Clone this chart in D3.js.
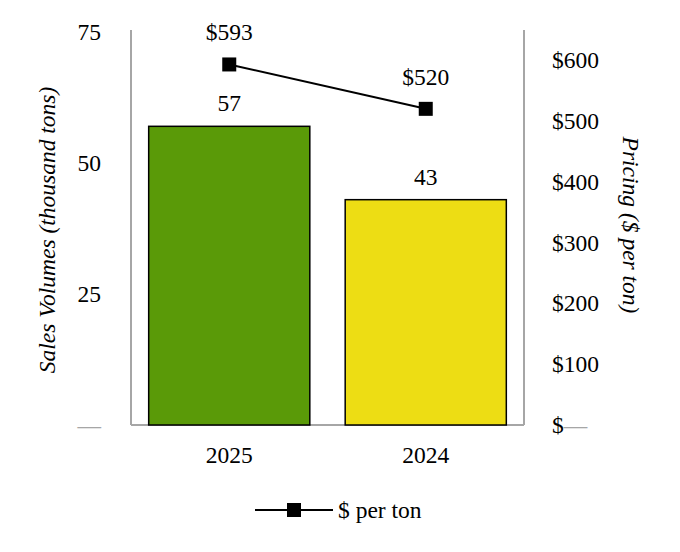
<!DOCTYPE html>
<html><head><meta charset="utf-8">
<script src="https://cdn.jsdelivr.net/npm/d3@7"></script>
<style>body{margin:0;background:#fff}svg{display:block}</style>
</head><body><svg id="c" width="680" height="552"></svg>
<script>
const categories = ["2025", "2024"];
const volumes = [57, 43];
const prices = [593, 520];
const priceLabels = ["$593", "$520"];
const leftTicks = [0, 25, 50, 75];
const leftTickLabels = ["—", "25", "50", "75"];
const rightTicks = [0, 100, 200, 300, 400, 500, 600];
const rightTickLabels = ["$—", "$100", "$200", "$300", "$400", "$500", "$600"];
const barColors = ["#5a9a08", "#eddd14"];
const seriesName = "$ per ton";

const FS = 23.5;
const FF = "Liberation Serif";
const svg = d3.select("#c");
const L = 131, R = 524, T = 30, B = 425;
const x = d3.scaleBand().domain(categories).range([L, R]).paddingInner(0.18).paddingOuter(0.09);
const yL = d3.scaleLinear().domain([0, 75]).range([B, B - 75 * 5.24]);
const yR = d3.scaleLinear().domain([0, 650]).range([B, B - 650 * 0.608]);
const txt = () => svg.append("text").attr("font-family", FF).attr("font-size", FS);

const gray = "#a6a6a6";
svg.append("line").attr("x1", L).attr("x2", L).attr("y1", T).attr("y2", B).attr("stroke", gray).attr("stroke-width", 2);
svg.append("line").attr("x1", R).attr("x2", R).attr("y1", T).attr("y2", B).attr("stroke", gray).attr("stroke-width", 2);
svg.append("line").attr("x1", L).attr("x2", R).attr("y1", B).attr("y2", B).attr("stroke", gray).attr("stroke-width", 2);

svg.selectAll("rect.bar").data(categories).enter().append("rect").attr("class", "bar")
  .attr("x", d => x(d)).attr("width", x.bandwidth())
  .attr("y", (d, i) => yL(volumes[i])).attr("height", (d, i) => B - yL(volumes[i]))
  .attr("fill", (d, i) => barColors[i]).attr("stroke", "#000").attr("stroke-width", 1.5);

categories.forEach((c, i) => {
  txt().attr("x", x(c) + x.bandwidth() / 2).attr("y", yL(volumes[i]) - 15)
    .attr("text-anchor", "middle").text(volumes[i]);
});

leftTicks.forEach((t, i) => {
  txt().attr("x", 101).attr("y", yL(t) + 8).attr("text-anchor", "end")
    .attr("fill", i === 0 ? gray : "#000").text(leftTickLabels[i]);
});
rightTicks.forEach((t, i) => {
  const tx = txt().attr("x", 552).attr("y", yR(t) + 8);
  if (t === 0) {
    tx.append("tspan").text("$");
    tx.append("tspan").attr("fill", gray).text("—");
  } else tx.text(rightTickLabels[i]);
});

categories.forEach(c => {
  txt().attr("x", x(c) + x.bandwidth() / 2).attr("y", 463).attr("text-anchor", "middle").text(c);
});

txt().attr("transform", "translate(55,230) rotate(-90)").attr("text-anchor", "middle")
  .attr("font-style", "italic").text("Sales Volumes (thousand tons)");
txt().attr("transform", "translate(623,225) rotate(90)").attr("text-anchor", "middle")
  .attr("font-style", "italic").text("Pricing ($ per ton)");

const cx = d => x(d) + x.bandwidth() / 2;
svg.append("path").datum(categories)
  .attr("d", d3.line().x(d => cx(d)).y((d, i) => yR(prices[i])))
  .attr("fill", "none").attr("stroke", "#000").attr("stroke-width", 2);
const ms = 14;
svg.selectAll("rect.pt").data(categories).enter().append("rect").attr("class", "pt")
  .attr("x", d => cx(d) - ms / 2).attr("y", (d, i) => yR(prices[i]) - ms / 2)
  .attr("width", ms).attr("height", ms).attr("fill", "#000");
categories.forEach((c, i) => {
  txt().attr("x", cx(c)).attr("y", yR(prices[i]) - 24).attr("text-anchor", "middle").text(priceLabels[i]);
});

svg.append("line").attr("x1", 255).attr("x2", 333).attr("y1", 510).attr("y2", 510).attr("stroke", "#000").attr("stroke-width", 2);
svg.append("rect").attr("x", 287).attr("y", 503).attr("width", 14).attr("height", 14).attr("fill", "#000");
txt().attr("x", 338).attr("y", 518).text(seriesName);
</script></body></html>
